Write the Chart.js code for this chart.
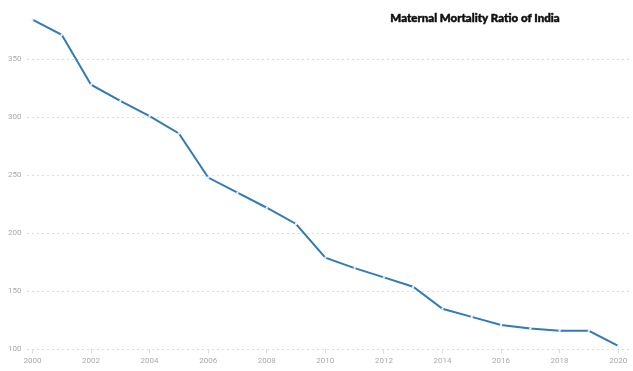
<!DOCTYPE html>
<html lang="en">
<head>
  <meta charset="UTF-8">
  <title>Maternal Mortality Ratio of India</title>
  <script src="https://cdn.jsdelivr.net/npm/chart.js"></script>
  <style>
    html, body { margin: 0; padding: 0; background: #fff; }
    canvas { display: block; }
  </style>
</head>
<body>
  <canvas id="mmr-chart" width="633" height="371"></canvas>
  <script>
    // data
    const years = [2000, 2001, 2002, 2003, 2004, 2005, 2006, 2007, 2008, 2009, 2010,
                   2011, 2012, 2013, 2014, 2015, 2016, 2017, 2018, 2019, 2020];
    const mmr = [384, 371, 328, 314, 301, 286, 248, 235, 222, 208, 179,
                 170, 162, 154, 135, 128, 121, 118, 116, 116, 103];
    const xTicks = [2000, 2002, 2004, 2006, 2008, 2010, 2012, 2014, 2016, 2018, 2020];
    const yTicks = [100, 150, 200, 250, 300, 350];
    const chartTitle = 'Maternal Mortality Ratio of India';

    const titlePlugin = {
      id: 'cornerTitle',
      afterDraw(chart) {
        const ctx = chart.ctx;
        ctx.save();
        ctx.font = '900 11.5px Lato, "DejaVu Sans", sans-serif';
        ctx.fillStyle = '#111';
        ctx.strokeStyle = '#111';
        ctx.lineWidth = 0.5;
        ctx.textAlign = 'center';
        ctx.textBaseline = 'middle';
        ctx.fillText(chartTitle, 475, 18, 190);
        ctx.strokeText(chartTitle, 475, 18, 190);
        ctx.restore();
      }
    };

    const ctx = document.getElementById('mmr-chart').getContext('2d');
    new Chart(ctx, {
      type: 'line',
      data: {
        datasets: [{
          label: 'MMR',
          data: years.map((y, i) => ({ x: y, y: mmr[i] })),
          borderColor: '#337ab7',
          borderWidth: 2,
          pointRadius: 1.2,
          pointBorderWidth: 0,
          pointBackgroundColor: '#e8f0f8',
          tension: 0,
          fill: false
        }]
      },
      options: {
        responsive: false,
        animation: false,
        layout: { padding: { left: 2, top: 15, right: 0, bottom: 2 } },
        plugins: {
          legend: { display: false },
          tooltip: { enabled: false }
        },
        scales: {
          x: {
            type: 'linear',
            min: 1999.83,
            max: 2020.37,
            afterBuildTicks: axis => { axis.ticks = xTicks.map(v => ({ value: v })); },
            border: { display: false },
            grid: { drawOnChartArea: false, tickLength: 4, color: '#ddd' },
            ticks: {
              color: '#aaa',
              font: { size: 8, family: 'Roboto, sans-serif' },
              padding: 3,
              maxRotation: 0,
              callback: v => String(v)
            }
          },
          y: {
            min: 100,
            max: 388,
            afterBuildTicks: axis => { axis.ticks = yTicks.map(v => ({ value: v })); },
            border: { display: false, dash: [2, 3] },
            grid: { color: '#dcdcdc', drawTicks: false, lineWidth: 1 },
            ticks: {
              color: '#aaa',
              font: { size: 8, family: 'Roboto, sans-serif' },
              padding: 6
            }
          }
        }
      },
      plugins: [titlePlugin]
    });
  </script>
</body>
</html>
